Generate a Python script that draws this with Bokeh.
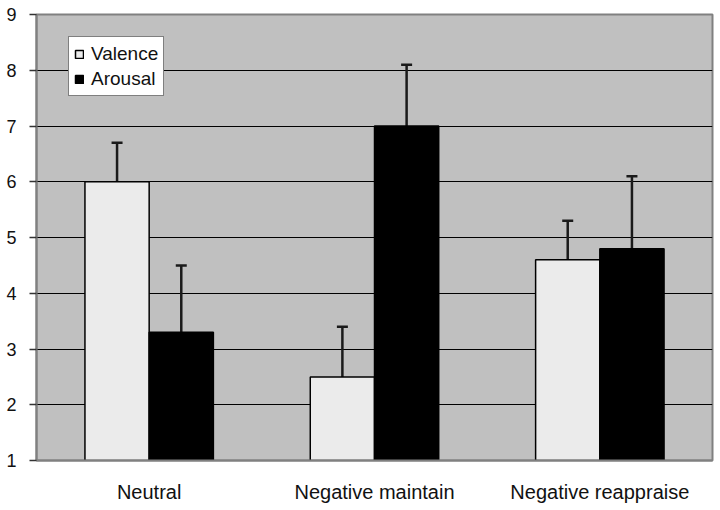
from bokeh.plotting import figure
from bokeh.models import (ColumnDataSource, FactorRange, Legend, LegendItem,
                          Whisker, TeeHead, FixedTicker)
from bokeh.transform import dodge
from bokeh.embed import file_html
from bokeh.resources import INLINE

categories = ["Neutral", "Negative maintain", "Negative reappraise"]
valence = [6.0, 2.5, 4.6]
valence_err_top = [6.7, 3.4, 5.3]
arousal = [3.3, 7.0, 4.8]
arousal_err_top = [4.5, 8.1, 6.1]
y_ticks = [1, 2, 3, 4, 5, 6, 7, 8, 9]

src = ColumnDataSource(dict(cat=categories, valence=valence, verr=valence_err_top,
                            arousal=arousal, aerr=arousal_err_top))

FONT = "Liberation Sans"
p = figure(x_range=FactorRange(*categories), y_range=(1, 9),
           width=720, height=510, output_backend="svg", toolbar_location=None,
           min_border_left=36, min_border_right=8, min_border_top=14, min_border_bottom=50)

p.background_fill_color = "#c0c0c0"
p.border_fill_color = "white"
p.outline_line_color = "#808080"
p.outline_line_width = 2

off = 0.1425
bw = 0.285
r_val = p.vbar(x=dodge("cat", -off, range=p.x_range), top="valence", bottom=1, width=bw,
               source=src, fill_color="#ebebeb", line_color="black", line_width=1.5)
r_aro = p.vbar(x=dodge("cat", off, range=p.x_range), top="arousal", bottom=1, width=bw,
               source=src, fill_color="black", line_color="black", line_width=1.5)

for col, top, sign in (("valence", "verr", -1), ("arousal", "aerr", 1)):
    w = Whisker(base=dodge("cat", sign * off, range=p.x_range), lower=col, upper=top,
                source=src, line_color="#1a1a1a", line_width=2.5,
                upper_head=TeeHead(size=11, line_width=2.5, line_color="#1a1a1a"),
                lower_head=None)
    p.add_layout(w)

p.yaxis.ticker = FixedTicker(ticks=y_ticks)
p.ygrid.ticker = FixedTicker(ticks=y_ticks[1:-1])
p.ygrid.grid_line_color = "black"
p.ygrid.grid_line_width = 1
p.xgrid.grid_line_color = None

p.yaxis.axis_line_color = "#808080"
p.yaxis.axis_line_width = 2
p.yaxis.major_tick_line_color = "#333333"
p.yaxis.major_tick_line_width = 1.5
p.yaxis.major_tick_out = 7
p.yaxis.major_tick_in = 0
p.yaxis.minor_tick_line_color = None
p.yaxis.major_label_standoff = 13
p.yaxis.major_label_text_font = FONT
p.yaxis.major_label_text_font_size = "18px"
p.yaxis.major_label_text_color = "#111111"

p.xaxis.axis_line_color = "#808080"
p.xaxis.axis_line_width = 2
p.xaxis.major_tick_line_color = None
p.xaxis.minor_tick_line_color = None
p.xaxis.major_label_standoff = 14
p.xaxis.major_label_text_font = FONT
p.xaxis.major_label_text_font_size = "20px"
p.xaxis.major_label_text_color = "#111111"

legend = Legend(items=[LegendItem(label="Valence", renderers=[r_val]),
                       LegendItem(label="Arousal", renderers=[r_aro])],
                location=(32, 364))
legend.label_text_font = FONT
legend.label_text_font_size = "19px"
legend.label_text_color = "#111111"
legend.glyph_width = 10
legend.glyph_height = 10
legend.label_height = 23
legend.label_standoff = 7
legend.spacing = 2
legend.padding = 5
legend.margin = 0
legend.border_line_color = "black"
legend.border_line_width = 1.5
legend.background_fill_color = "white"
legend.background_fill_alpha = 1
p.add_layout(legend)

open("out.html", "w").write(file_html(p, INLINE))
